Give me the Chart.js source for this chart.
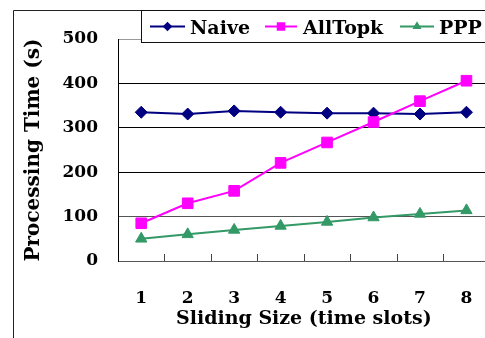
<!DOCTYPE html>
<html>
<head>
<meta charset="utf-8">
<script src="https://cdn.jsdelivr.net/npm/chart.js@4/dist/chart.umd.min.js"></script>
<style>
  html, body { margin: 0; padding: 0; background: #fff; overflow: hidden; width: 485px; height: 338px; }
  #wrap { width: 500px; height: 338px; }
</style>
</head>
<body>
<div id="wrap"><canvas id="c" width="500" height="338"></canvas></div>
<script>
// Sliding window sizes (time slots) and processing times in seconds
const slidingSizes = ['1', '2', '3', '4', '5', '6', '7', '8'];
const naiveTimes   = [335, 331, 338, 335, 333, 333, 331, 335];
const allTopkTimes = [85, 130, 158, 221, 267, 313, 360, 406];
const pppTimes     = [50, 60, 70, 79, 88, 98, 106, 114];
const yTickValues  = [0, 100, 200, 300, 400, 500];

const FONT = 'DejaVu Serif';

function drawMarker(ctx, style, x, y, r, color) {
  ctx.save();
  ctx.fillStyle = color;
  ctx.beginPath();
  if (style === 'rectRot') {
    ctx.moveTo(x, y - r); ctx.lineTo(x + r, y); ctx.lineTo(x, y + r); ctx.lineTo(x - r, y);
  } else if (style === 'rect') {
    const s = r * Math.SQRT1_2;
    ctx.rect(x - s, y - s, 2 * s, 2 * s);
  } else {
    const h = r * 0.866;
    ctx.moveTo(x, y - r); ctx.lineTo(x + h, y + r / 2); ctx.lineTo(x - h, y + r / 2);
  }
  ctx.closePath();
  ctx.fill();
  ctx.restore();
}

// white page with the outer frame of the figure
const framePlugin = {
  id: 'frame',
  beforeDraw(chart) {
    const ctx = chart.ctx;
    ctx.save();
    ctx.fillStyle = '#fff';
    ctx.fillRect(0, 0, chart.width, chart.height);
    ctx.strokeStyle = '#222';
    ctx.lineWidth = 1;
    ctx.beginPath();
    ctx.moveTo(13.5, chart.height);
    ctx.lineTo(13.5, 10.5);
    ctx.lineTo(chart.width, 10.5);
    ctx.stroke();
    ctx.restore();
  }
};

// short tick marks between categories, pointing into the plot
const innerTicksPlugin = {
  id: 'innerTicks',
  afterDatasetsDraw(chart) {
    const xs = chart.scales.x;
    const ctx = chart.ctx;
    const bottom = chart.chartArea.bottom;
    ctx.save();
    ctx.strokeStyle = '#444';
    ctx.lineWidth = 1;
    for (let i = 0; i < slidingSizes.length - 1; i++) {
      const px = Math.round((xs.getPixelForValue(i) + xs.getPixelForValue(i + 1)) / 2) + 0.5;
      ctx.beginPath();
      ctx.moveTo(px, bottom);
      ctx.lineTo(px, bottom - 7);
      ctx.stroke();
    }
    ctx.restore();
  }
};

// boxed legend with line-and-marker samples
const boxLegendPlugin = {
  id: 'boxLegend',
  afterDraw(chart) {
    const ctx = chart.ctx;
    ctx.save();
    ctx.fillStyle = '#fff';
    ctx.fillRect(141, 10, chart.width - 141, 32);
    ctx.strokeStyle = '#111';
    ctx.lineWidth = 1;
    ctx.strokeRect(141.5, 10.5, chart.width, 32);
    const samples = [[150, 185, 190], [265, 297, 303], [400, 434, 439]];
    const ly = 26.5;
    chart.data.datasets.forEach((ds, i) => {
      const [x0, x1, tx] = samples[i];
      ctx.strokeStyle = ds.borderColor;
      ctx.lineWidth = 2;
      ctx.beginPath();
      ctx.moveTo(x0, ly);
      ctx.lineTo(x1, ly);
      ctx.stroke();
      drawMarker(ctx, ds.pointStyle, (x0 + x1) / 2, ly, ds.pointRadius * 0.8, ds.borderColor);
      ctx.fillStyle = '#000';
      ctx.font = 'bold 19px "' + FONT + '"';
      ctx.textBaseline = 'alphabetic';
      ctx.textAlign = 'left';
      ctx.fillText(ds.label, tx, 34);
    });
    ctx.restore();
  }
};

new Chart(document.getElementById('c'), {
  type: 'line',
  data: {
    labels: slidingSizes,
    datasets: [
      {
        label: 'Naive', data: naiveTimes, order: 3,
        borderColor: '#000080', backgroundColor: '#000080',
        pointStyle: 'rectRot', pointRadius: 6, pointBorderWidth: 1, borderWidth: 2, tension: 0
      },
      {
        label: 'AllTopk', data: allTopkTimes, order: 2,
        borderColor: '#FF00FF', backgroundColor: '#FF00FF',
        pointStyle: 'rect', pointRadius: 7.5, pointBorderWidth: 1, borderWidth: 2, tension: 0
      },
      {
        label: 'PPP', data: pppTimes, order: 1,
        borderColor: '#339966', backgroundColor: '#339966',
        pointStyle: 'triangle', pointRadius: 6.5, pointBorderWidth: 1, borderWidth: 2, tension: 0
      }
    ]
  },
  options: {
    responsive: false,
    animation: false,
    devicePixelRatio: 1,
    layout: { padding: { left: 0, right: 10, top: 39, bottom: 0 } },
    plugins: { legend: { display: false }, tooltip: { enabled: false } },
    scales: {
      x: {
        offset: true,
        grid: { display: true, drawOnChartArea: false, drawTicks: false },
        border: { display: true, color: '#555', width: 1 },
        ticks: { color: '#000', padding: 27, font: { family: FONT, size: 17, weight: 'bold' } },
        title: {
          display: true, text: 'Sliding Size (time slots)', color: '#000',
          font: { family: FONT, size: 19, weight: 'bold' }, padding: { top: 0, bottom: 8 }
        },
        afterFit(scale) { scale.height = 77; }
      },
      y: {
        min: yTickValues[0],
        max: yTickValues[yTickValues.length - 1],
        grid: {
          drawTicks: false,
          color: (c) => c.tick.value === 500 ? '#999' : (c.tick.value === 100 ? '#555' : '#000'),
          lineWidth: 1
        },
        border: { display: true, color: '#000', width: 1 },
        ticks: {
          stepSize: yTickValues[1] - yTickValues[0],
          color: '#000', padding: 20,
          font: { family: FONT, size: 17, weight: 'bold' }
        },
        title: {
          display: true, text: 'Processing Time (s)', color: '#000',
          font: { family: FONT, size: 20, weight: 'bold' }, padding: { top: 22, bottom: 0 }
        },
        afterFit(scale) { scale.width = 118; }
      }
    }
  },
  plugins: [framePlugin, innerTicksPlugin, boxLegendPlugin]
});
</script>
</body>
</html>
